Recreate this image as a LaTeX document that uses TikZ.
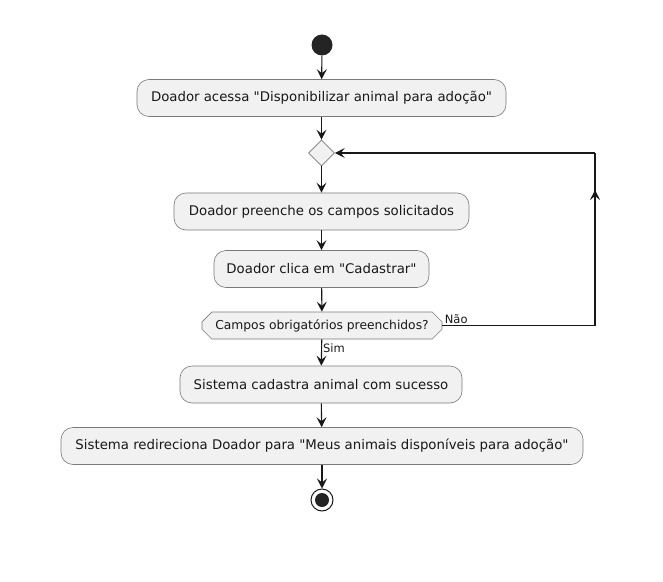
\documentclass[tikz,border=0pt]{standalone}
\usepackage{fontspec}
\setmainfont{DejaVu Sans}[Ligatures=TeXOff]
\usetikzlibrary{arrows.meta,shapes.misc,shapes.geometric}
\definecolor{boxfill}{HTML}{F1F1F1}
\definecolor{boxline}{HTML}{7A7A7A}
\definecolor{ink}{HTML}{181818}
\tikzset{
  act/.style={draw=boxline, line width=0.6pt, fill=boxfill, rounded corners=12bp,
    minimum height=37bp, inner sep=0pt, font=\fontsize{13.3bp}{15bp}\selectfont, text=ink},
  flow/.style={draw=ink, line width=1.1pt, -{Stealth[length=10bp,width=10bp,inset=4bp]}},
  plain/.style={draw=ink, line width=1.1pt},
  lbl/.style={font=\fontsize{11.5bp}{13bp}\selectfont, text=ink, inner sep=1bp}
}
\begin{document}
\begin{tikzpicture}[x=1bp,y=-1bp]
\useasboundingbox (0,0) rectangle (663,582);
\node[circle, fill=ink!95, minimum size=21bp, inner sep=0pt] (start) at (322,45) {};
\node[act, minimum width=369bp] (b1) at (321.5,98) {Doador acessa "Disponibilizar animal para adoção"};
\node[diamond, draw=boxline, fill=boxfill, line width=0.6pt, minimum width=26bp, minimum height=26bp, inner sep=0pt] (m) at (321.5,153) {};
\node[act, minimum width=295bp] (b2) at (321.5,211.5) {Doador preenche os campos solicitados};
\node[act, minimum width=215bp] (b3) at (321.5,269) {Doador clica em "Cadastrar"};
\node[draw=boxline, fill=boxfill, line width=0.6pt, chamfered rectangle, chamfered rectangle xsep=13bp, chamfered rectangle angle=45,
  chamfered rectangle corners={north west,south west,north east,south east},
  minimum width=240bp, minimum height=27bp, inner sep=0pt, inner xsep=0pt,
  font=\fontsize{12.3bp}{14bp}\selectfont, text=ink] (d) at (322,325.5) {Campos obrigatórios preenchidos?};
\node[act, minimum width=282bp] (b4) at (321,384.5) {Sistema cadastra animal com sucesso};
\node[act, minimum width=522bp] (b5) at (322,446) {Sistema redireciona Doador para "Meus animais disponíveis para adoção"};
\node[circle, draw=ink, line width=1pt, minimum size=22bp, inner sep=0pt] (end) at (322,500) {};
\node[circle, fill=ink!95, minimum size=14bp, inner sep=0pt] at (end.center) {};
\coordinate (c1) at (595,325.5);
\coordinate (c2) at (595,153);
\coordinate (c3) at (595,190);
\draw[flow] (start) -- (b1);
\draw[flow] (b1) -- (m);
\draw[flow] (m) -- (b2);
\draw[flow] (b2) -- (b3);
\draw[flow] (b3) -- (d);
\draw[flow] (d) -- node[lbl, anchor=west, pos=0.35] {Sim} (b4);
\draw[flow] (b4) -- (b5);
\draw[flow] (b5) -- (end);
\draw[plain] (d.east) -- node[lbl, anchor=south west, pos=0, xshift=1bp] {Não} (c1) -- (c2);
\draw[flow] (c1) -- (c3);
\draw[flow] (c2) -- (m.east);
\end{tikzpicture}
\end{document}
